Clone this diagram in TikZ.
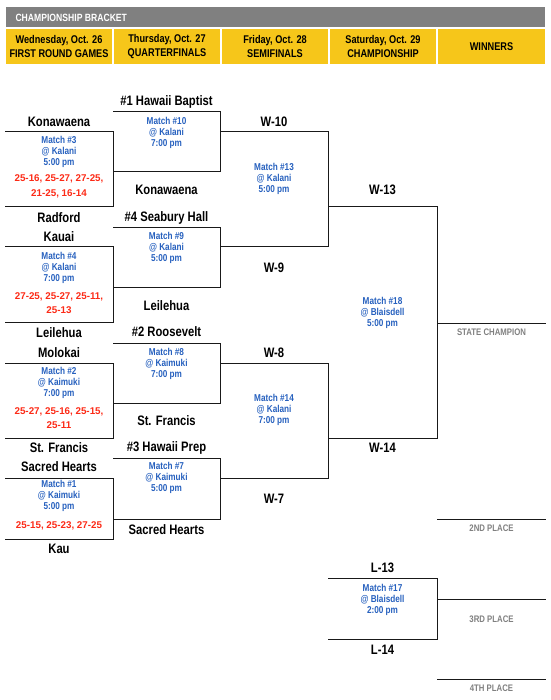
\documentclass[tikz,border=0pt]{standalone}
\usepackage{fontspec}
\setmainfont[FakeStretch=0.82]{Liberation Sans}
\newfontfamily\widefont{Liberation Sans}
\usepackage{xcolor}
\usetikzlibrary{positioning}

\definecolor{hdrgray}{RGB}{128,128,128}
\definecolor{hdryellow}{RGB}{246,198,26}
\definecolor{matchblue}{RGB}{38,96,190}
\definecolor{scorered}{RGB}{252,42,22}
\definecolor{placegray}{RGB}{128,128,128}

\tikzset{
  bline/.style={line width=1pt, black!90},
  team/.style={font=\bfseries\fontsize{13.7}{15}\selectfont},
  info/.style={font=\bfseries\fontsize{10}{10.7}\selectfont, text=matchblue, align=center},
  score/.style={font=\widefont\bfseries\fontsize{9.8}{14.5}\selectfont, text=scorered, align=center},
  place/.style={font=\bfseries\fontsize{9.5}{10}\selectfont, text=placegray},
  dayhead/.style={fill=hdryellow, font=\bfseries\fontsize{11.2}{14}\selectfont,
    align=center, inner sep=0pt, minimum height=35pt},
}

% open box of one match: name, left x, top y, right x, bottom y
\newcommand{\matchbox}[5]{%
  \coordinate (#1-tl) at (#2,#3);
  \coordinate (#1-tr) at (#4,#3);
  \coordinate (#1-br) at (#4,#5);
  \coordinate (#1-bl) at (#2,#5);
  \draw[bline] (#1-tl) -- (#1-tr) -- (#1-br) -- (#1-bl);
}

\begin{document}
\begin{tikzpicture}[x=1pt, y=-1pt]
\useasboundingbox (0,0) rectangle (550,700);

% Title bar
\fill[hdrgray] (6,7) rectangle (545,27);
\node[anchor=west, text=white, font=\bfseries\fontsize{10.5}{12}\selectfont] (title) at (12,17.5) {CHAMPIONSHIP BRACKET};

% Day headers
\node[dayhead, minimum width=106pt] (day1) at (59,46.5) {Wednesday, Oct. 26\\FIRST ROUND GAMES};
\node[dayhead, minimum width=106pt] (day2) at (167,46.5) {Thursday, Oct. 27\\QUARTERFINALS};
\node[dayhead, minimum width=106pt] (day3) at (275,46.5) {Friday, Oct. 28\\SEMIFINALS};
\node[dayhead, minimum width=106pt] (day4) at (383,46.5) {Saturday, Oct. 29\\CHAMPIONSHIP};
\node[dayhead, minimum width=107pt] (day5) at (491.5,46.5) {WINNERS};

% First round boxes
\matchbox{m3}{5}{132}{113}{207}
\matchbox{m4}{5}{247}{113}{322}
\matchbox{m2}{5}{363}{113}{438}
\matchbox{m1}{5}{478}{113}{539}

% Quarterfinal boxes
\matchbox{m10}{113}{112}{220}{172}
\matchbox{m9}{113}{228}{220}{287}
\matchbox{m8}{113}{343}{220}{403}
\matchbox{m7}{113}{458}{220}{519}

% Semifinal boxes
\matchbox{m13}{220}{132}{328}{247}
\matchbox{m14}{220}{363}{328}{478}

% Championship and third place
\matchbox{m18}{328}{207}{437}{438}
\matchbox{m17}{328}{578}{437}{639}

% Winner lines
\coordinate (champ) at (546,323);
\coordinate (second) at (546,519);
\coordinate (third) at (546,599);
\coordinate (fourth) at (546,679);
\draw[bline] (m18-tr |- champ) -- (champ);
\draw[bline] (m18-tr |- second) -- (second);
\draw[bline] (m17-tr |- third) -- (third);
\draw[bline] (m17-tr |- fourth) -- (fourth);

% Match details
\node[info] (i3) at (59,152) {Match \#3\\@ Kalani\\5:00 pm};
\node[score] (s3) at (59,186.5) {25-16, 25-27, 27-25,\\21-25, 16-14};
\node[info] (i4) at (59,268) {Match \#4\\@ Kalani\\7:00 pm};
\node[score] (s4) at (59,303) {27-25, 25-27, 25-11,\\25-13};
\node[info] (i2) at (59,383) {Match \#2\\@ Kaimuki\\7:00 pm};
\node[score] (s2) at (59,418) {25-27, 25-16, 25-15,\\25-11};
\node[info] (i1) at (59,496) {Match \#1\\@ Kaimuki\\5:00 pm};
\node[score] (s1) at (59,526) {25-15, 25-23, 27-25};

\node[info] (i10) at (166.5,133) {Match \#10\\@ Kalani\\7:00 pm};
\node[info] (i9) at (166.5,248) {Match \#9\\@ Kalani\\5:00 pm};
\node[info] (i8) at (166.5,364) {Match \#8\\@ Kaimuki\\7:00 pm};
\node[info] (i7) at (166.5,478) {Match \#7\\@ Kaimuki\\5:00 pm};

\node[info] (i13) at (274,179) {Match \#13\\@ Kalani\\5:00 pm};
\node[info] (i14) at (274,410) {Match \#14\\@ Kalani\\7:00 pm};
\node[info] (i18) at (382.5,313) {Match \#18\\@ Blaisdell\\5:00 pm};
\node[info] (i17) at (382.5,600) {Match \#17\\@ Blaisdell\\2:00 pm};

% Team names, first round
\node[team] (t3a) at (59,122) {Konawaena};
\node[team] (t3b) at (59,218) {Radford};
\node[team] (t4a) at (59,237) {Kauai};
\node[team] (t4b) at (59,333) {Leilehua};
\node[team] (t2a) at (59,353) {Molokai};
\node[team] (t2b) at (59,448) {St. Francis};
\node[team] (t1a) at (59,467) {Sacred Hearts};
\node[team] (t1b) at (59,549) {Kau};

% Team names, quarterfinals
\node[team] (t10a) at (166.5,102) {\#1 Hawaii Baptist};
\node[team] (t10b) at (166.5,190) {Konawaena};
\node[team] (t9a) at (166.5,218) {\#4 Seabury Hall};
\node[team] (t9b) at (166.5,306) {Leilehua};
\node[team] (t8a) at (166.5,332) {\#2 Roosevelt};
\node[team] (t8b) at (166.5,421) {St. Francis};
\node[team] (t7a) at (166.5,448) {\#3 Hawaii Prep};
\node[team] (t7b) at (166.5,530) {Sacred Hearts};

% Later rounds
\node[team] (w10) at (274,122) {W-10};
\node[team] (w9) at (274,268) {W-9};
\node[team] (w8) at (274,353) {W-8};
\node[team] (w7) at (274,499) {W-7};
\node[team] (w13) at (382.5,190) {W-13};
\node[team] (w14) at (382.5,448) {W-14};
\node[team] (l13) at (382.5,568) {L-13};
\node[team] (l14) at (382.5,650) {L-14};

% Places
\node[place] (p1) at (491.5,332) {STATE CHAMPION};
\node[place] (p2) at (491.5,528) {2ND PLACE};
\node[place] (p3) at (491.5,619) {3RD PLACE};
\node[place] (p4) at (491.5,688) {4TH PLACE};

\end{tikzpicture}
\end{document}
